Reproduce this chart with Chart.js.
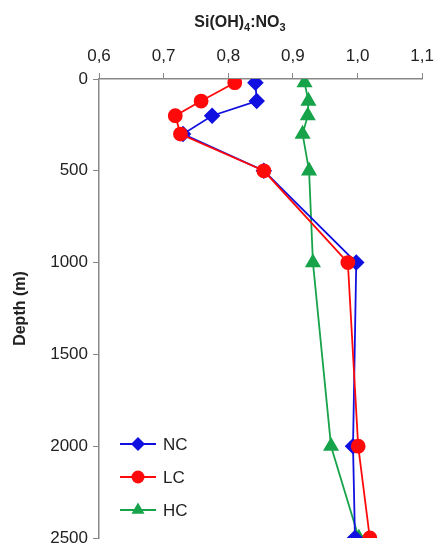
<!DOCTYPE html>
<html>
<head>
<meta charset="utf-8">
<script src="https://cdn.jsdelivr.net/npm/chart.js@4/dist/chart.umd.min.js"></script>
<style>
  html, body { margin: 0; padding: 0; background: #fff; }
  #wrap { width: 440px; height: 554px; }
</style>
</head>
<body>
<div id="wrap"><canvas id="perfil"></canvas></div>
<script>
// profundidades (m) e razões Si(OH)4:NO3
var depths = [20, 120, 200, 300, 500, 1000, 2000, 2500];
var nc = [0.842, 0.844, 0.775, 0.730, 0.855, 0.998, 0.993, 0.996];
var lc = [0.810, 0.758, 0.718, 0.726, 0.855, 0.985, 1.001, 1.019];
var hc = [0.918, 0.924, 0.923, 0.915, 0.925, 0.931, 0.959, 1.002];
var seriesNames = ['NC', 'LC', 'HC'];
var xTicks = [0.6, 0.7, 0.8, 0.9, 1.0, 1.1];
var yTicks = [0, 500, 1000, 1500, 2000, 2500];

var azul = '#1010e0';
var vermelho = '#ff0a0a';
var verde = '#17a34a';
var fonte = '"Liberation Sans", Arial, sans-serif';

function pontos(vals) {
    return vals.map((v, i) => ({ x: v, y: depths[i] }));
}

// legenda com linha + marcador, dentro da área do gráfico
var legendaPlugin = {
    id: 'legenda',
    afterDatasetsDraw(chart) {
        let ctx = chart.ctx;
        let ys = [444, 477, 510];
        let ordem = [1, 0, 2];
        ordem.forEach((idx, k) => {
            let ds = chart.data.datasets[idx];
            let y = ys[k];
            ctx.save();
            ctx.strokeStyle = ds.borderColor;
            ctx.lineWidth = 2;
            ctx.beginPath();
            ctx.moveTo(120, y);
            ctx.lineTo(156, y);
            ctx.stroke();
            ctx.fillStyle = ds.backgroundColor;
            Chart.helpers.drawPoint(ctx, {
                pointStyle: ds.pointStyle,
                radius: ds.pointRadius,
                rotation: 0,
                borderWidth: 0
            }, 138, y);
            ctx.fillStyle = '#222';
            ctx.font = '17px ' + fonte;
            ctx.textBaseline = 'middle';
            ctx.textAlign = 'left';
            ctx.fillText(ds.label, 163, y + 1);
            ctx.restore();
        });
    }
};

// título do eixo x, com subscritos desenhados à parte
var tituloPlugin = {
    id: 'tituloX',
    afterDraw(chart) {
        let ctx = chart.ctx;
        let partes = [
            { t: 'Si(OH)', sub: false },
            { t: '4', sub: true },
            { t: ':NO', sub: false },
            { t: '3', sub: true }
        ];
        let fN = 'bold 16px ' + fonte;
        let fS = 'bold 11px ' + fonte;
        ctx.save();
        ctx.fillStyle = '#222';
        ctx.textAlign = 'left';
        ctx.textBaseline = 'alphabetic';
        let total = 0;
        partes.forEach(p => {
            ctx.font = p.sub ? fS : fN;
            p.w = ctx.measureText(p.t).width;
            total += p.w;
        });
        let x = 240 - total / 2;
        let base = 27;
        partes.forEach(p => {
            ctx.font = p.sub ? fS : fN;
            ctx.fillText(p.t, x, p.sub ? base + 4 : base);
            x += p.w;
        });
        ctx.restore();
    }
};

var ctxPerfil = document.getElementById('perfil').getContext('2d');
var perfil = new Chart(ctxPerfil, {
    type: 'line',
    data: {
        datasets: [
            {
                label: seriesNames[1],
                data: pontos(lc),
                borderColor: vermelho,
                backgroundColor: vermelho,
                pointStyle: 'circle',
                pointRadius: 6.5,
                borderWidth: 1.8,
                order: 0
            },
            {
                label: seriesNames[0],
                data: pontos(nc),
                borderColor: azul,
                backgroundColor: azul,
                pointStyle: 'rectRot',
                pointRadius: 7,
                borderWidth: 1.8,
                order: 1
            },
            {
                label: seriesNames[2],
                data: pontos(hc),
                borderColor: verde,
                backgroundColor: verde,
                pointStyle: 'triangle',
                pointRadius: 7.5,
                borderWidth: 1.8,
                order: 2
            }
        ]
    },
    options: {
        responsive: true,
        maintainAspectRatio: false,
        animation: false,
        layout: { padding: { left: 0, right: 17, top: 0, bottom: 16 } },
        elements: {
            line: { tension: 0, fill: false },
            point: { borderWidth: 0, hoverRadius: 6 }
        },
        plugins: {
            legend: { display: false },
            tooltip: { enabled: false }
        },
        scales: {
            x: {
                type: 'linear',
                position: 'top',
                min: 0.6,
                max: 1.1,
                afterBuildTicks: (s) => { s.ticks = xTicks.map(v => ({ value: v })); },
                afterFit: (s) => { s.height = 79; },
                ticks: {
                    color: '#222',
                    font: { size: 17, family: fonte },
                    padding: 6,
                    maxRotation: 0,
                    callback: (v) => v.toFixed(1).replace('.', ',')
                },
                grid: {
                    drawOnChartArea: false,
                    drawTicks: true,
                    tickLength: 6,
                    color: '#888'
                },
                border: { color: '#888', width: 1.5 }
            },
            y: {
                type: 'linear',
                reverse: true,
                min: 0,
                max: 2500,
                afterBuildTicks: (s) => { s.ticks = yTicks.map(v => ({ value: v })); },
                afterFit: (s) => { s.width = 99; },
                title: {
                    display: true,
                    text: 'Depth (m)',
                    color: '#222',
                    font: { size: 16, weight: 'bold', family: fonte },
                    padding: { top: 11, bottom: 0 }
                },
                ticks: {
                    color: '#222',
                    font: { size: 17, family: fonte },
                    padding: 5,
                    callback: (v) => String(v)
                },
                grid: {
                    drawOnChartArea: false,
                    drawTicks: true,
                    tickLength: 6,
                    color: '#888'
                },
                border: { color: '#888', width: 1.5 }
            }
        }
    },
    plugins: [legendaPlugin, tituloPlugin]
});
</script>
</body>
</html>
